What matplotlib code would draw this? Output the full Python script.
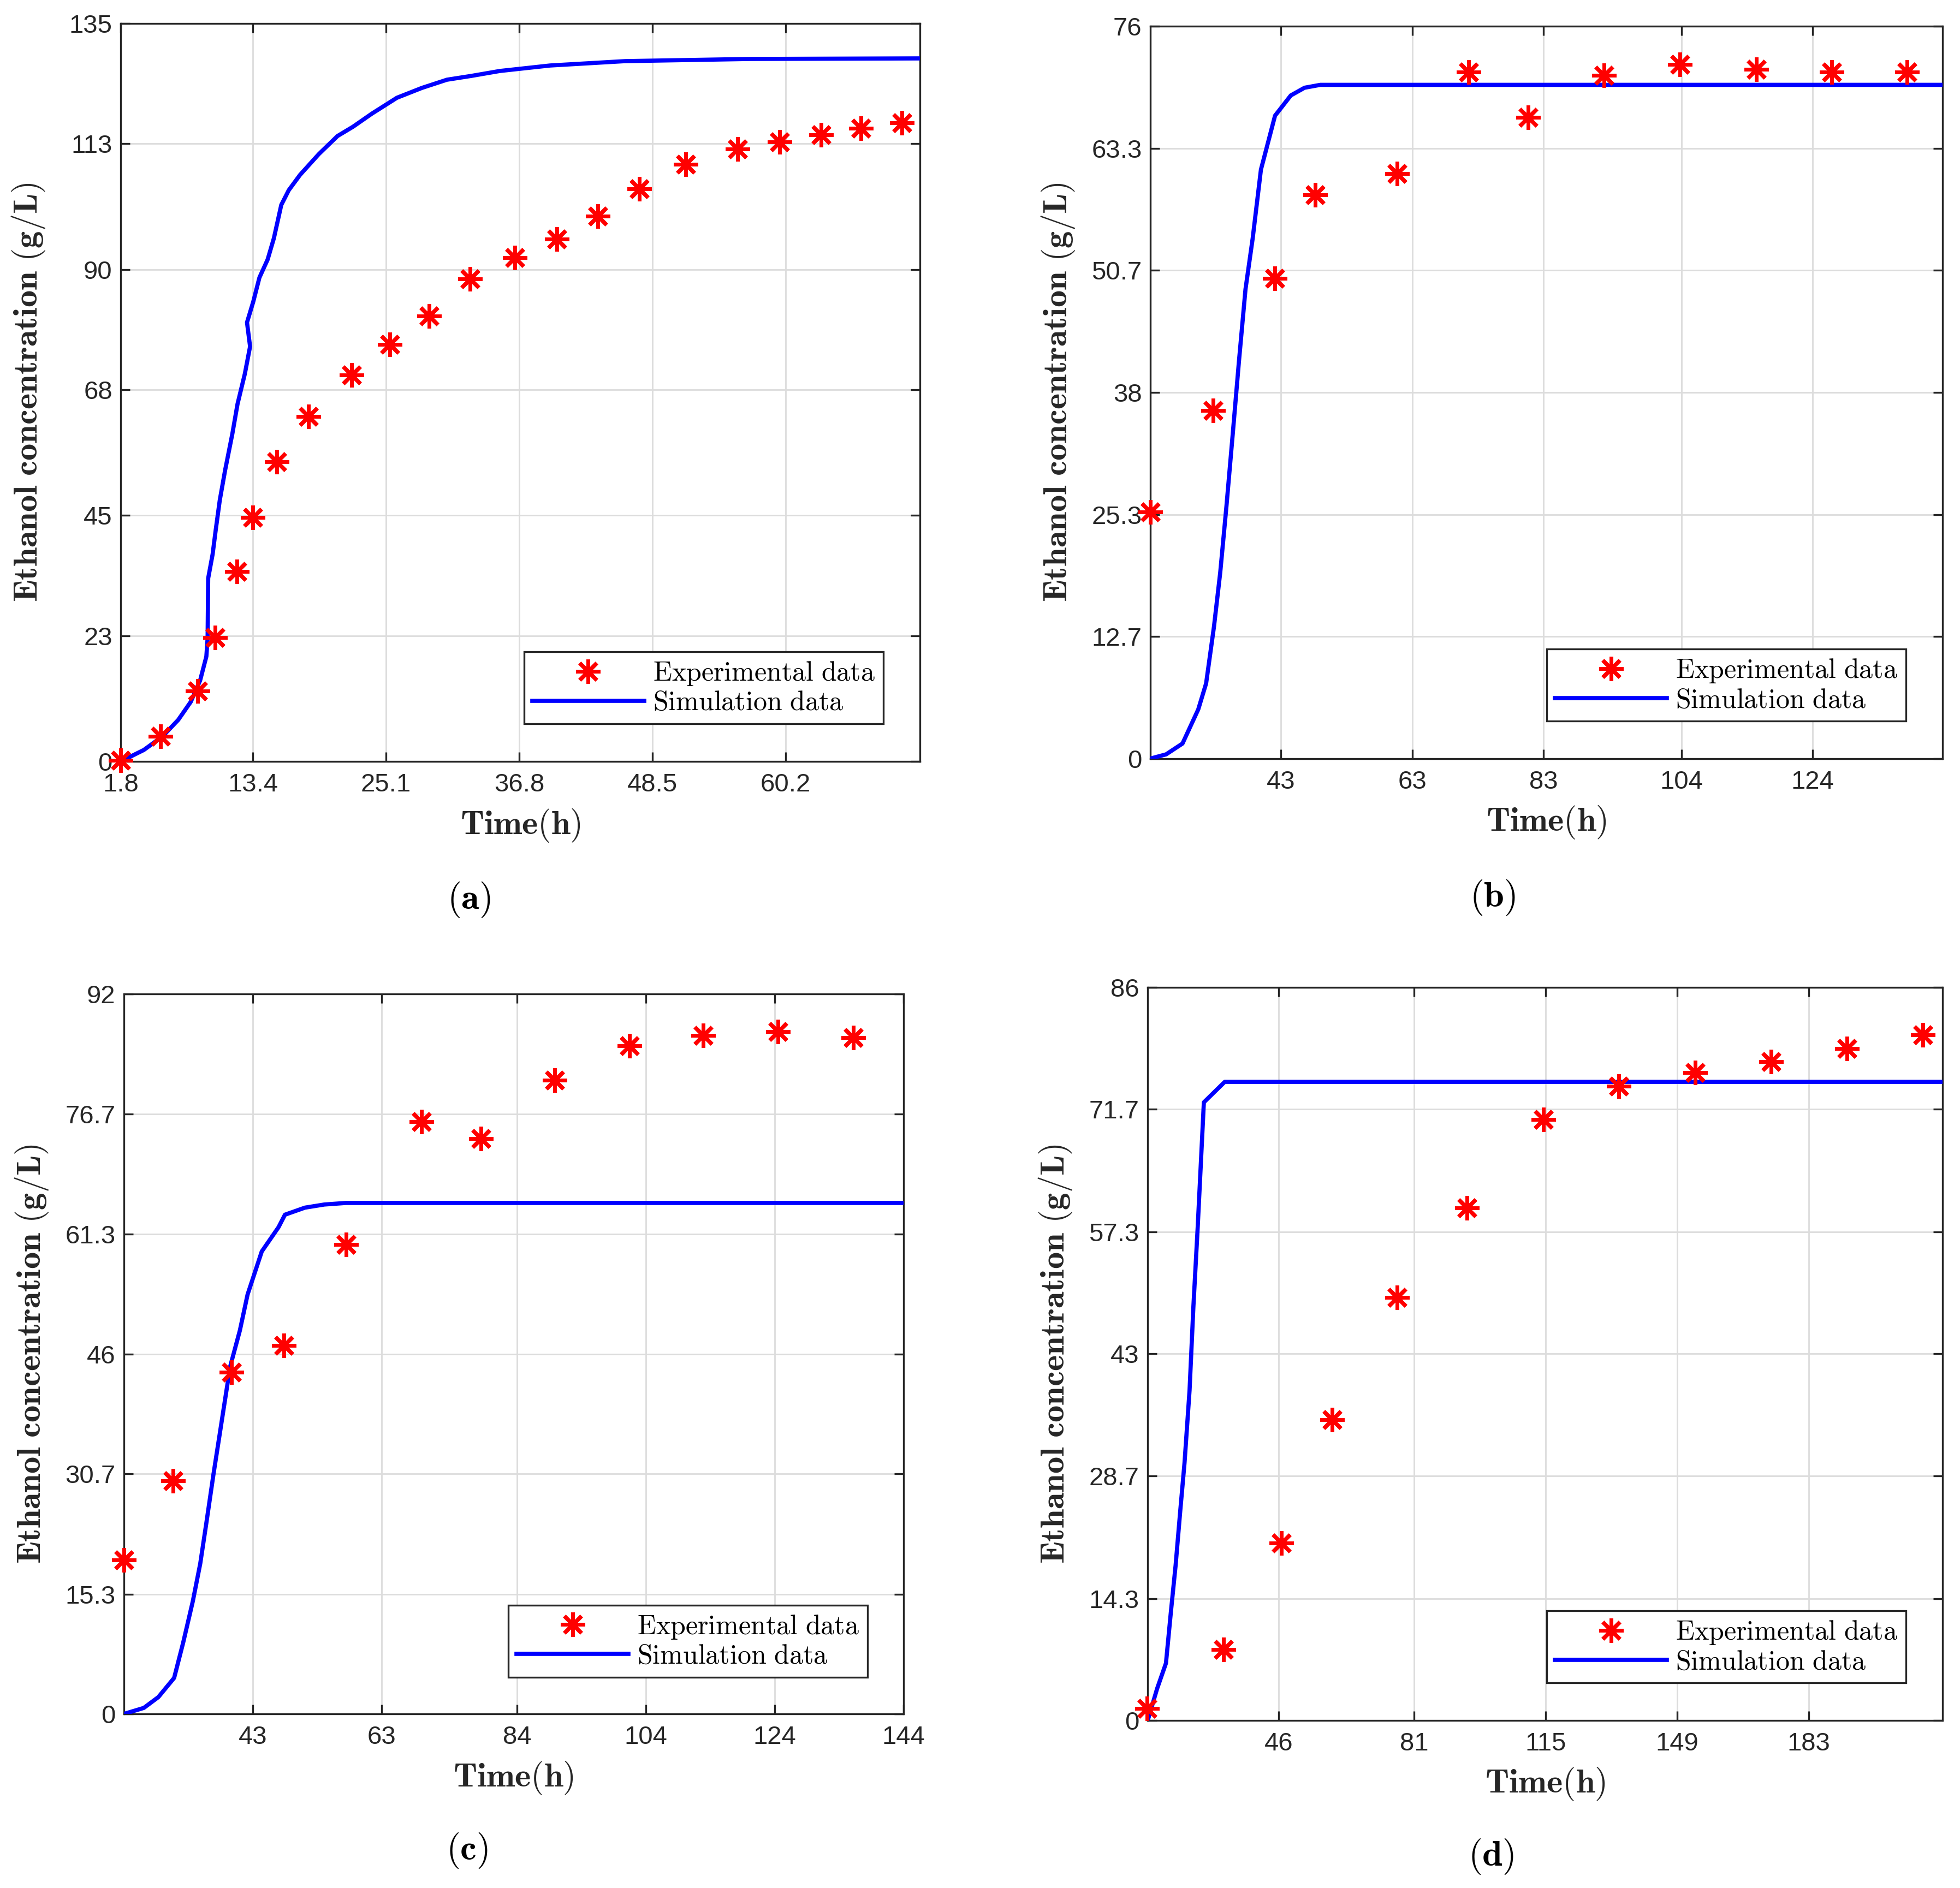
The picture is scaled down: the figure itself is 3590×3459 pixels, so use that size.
import matplotlib
matplotlib.use("Agg")
import matplotlib.pyplot as plt

plt.rcParams['font.family'] = ['Liberation Sans', 'DejaVu Sans']
plt.rcParams['mathtext.fontset'] = 'cm'

# ---- panel (a) ----
a_exp_x = [1.8, 5.3, 8.55, 10.1, 12.0, 13.4, 15.5, 18.3, 22.1, 25.45, 28.9, 32.5,
           36.4, 40.1, 43.7, 47.35, 51.4, 56.0, 59.65, 63.3, 66.8, 70.4]
a_exp_y = [0.2, 4.6, 12.9, 22.7, 34.7, 44.6, 54.8, 63.1, 70.7, 76.3, 81.5, 88.3,
           92.2, 95.6, 99.7, 104.7, 109.2, 112.0, 113.3, 114.6, 115.8, 116.8]
a_sim_x = [1.8, 3.83, 5.48, 6.85, 7.95, 8.77, 9.32, 9.43, 9.48, 9.87, 10.14, 10.5,
           10.97, 11.6, 12.06, 12.7, 13.16, 12.89, 13.44, 13.98, 14.7, 15.25, 15.9,
           16.56, 17.55, 19.2, 20.84, 22.2, 23.86, 26.06, 28.25, 30.45, 32.6, 35.1,
           39.5, 46.1, 57.1, 72.0]
a_sim_y = [0, 2.1, 4.6, 7.6, 10.9, 14.8, 19.2, 22.5, 33.5, 37.9, 42.3, 47.8,
           53.3, 59.9, 65.4, 70.9, 75.9, 80.3, 84.1, 88.5, 91.8, 95.7, 101.8,
           104.5, 107.3, 111.1, 114.4, 116.1, 118.5, 121.4, 123.2, 124.7, 125.4, 126.3,
           127.3, 128.1, 128.5, 128.6]
a_xticks = [1.8, 13.4, 25.1, 36.8, 48.5, 60.2]
a_xlabels = ['1.8', '13.4', '25.1', '36.8', '48.5', '60.2']
a_yticks = [0, 23, 45, 68, 90, 113, 135]
a_ylabels = ['0', '23', '45', '68', '90', '113', '135']

# ---- panel (b) ----
b_exp_x = [23.1, 32.7, 42.1, 48.2, 60.7, 71.6, 80.7, 92.2, 103.8, 115.4, 126.9, 138.4]
b_exp_y = [25.6, 36.1, 49.8, 58.5, 60.7, 71.2, 66.5, 70.9, 72.0, 71.5, 71.2, 71.2]
b_sim_x = [23.1, 25.5, 28.0, 30.4, 31.6, 32.8, 33.75, 34.7, 35.66, 36.6, 37.6, 38.7,
           39.95, 42.1, 44.5, 46.6, 49.0, 143.8]
b_sim_y = [0, 0.44, 1.56, 5.1, 7.8, 13.7, 19.3, 26.2, 33.7, 41.2, 48.7, 54.0,
           61.1, 66.7, 68.8, 69.6, 69.9, 69.9]
b_xticks = [43, 63, 83, 104, 124]
b_xlabels = ['43', '63', '83', '104', '124']
b_yticks = [0, 12.7, 25.3, 38, 50.7, 63.3, 76]
b_ylabels = ['0', '12.7', '25.3', '38', '50.7', '63.3', '76']

# ---- panel (c) ----
c_exp_x = [23.0, 30.6, 39.7, 47.85, 57.5, 69.2, 78.4, 89.9, 101.5, 112.9, 124.5, 136.2]
c_exp_y = [19.7, 29.8, 43.7, 47.1, 60.0, 75.7, 73.5, 81.0, 85.4, 86.7, 87.2, 86.4]
c_sim_x = [23.0, 26.1, 28.35, 30.8, 32.2, 33.7, 34.85, 35.8, 36.9, 38.05, 39.5, 41.0,
           42.2, 44.4, 47.0, 48.0, 51.1, 54.1, 57.45, 61.8, 144]
c_sim_y = [0, 0.77, 2.15, 4.6, 9.1, 14.4, 19.2, 24.4, 30.6, 36.7, 44.4, 49.0,
           53.6, 59.1, 62.2, 63.8, 64.7, 65.1, 65.3, 65.3, 65.3]
c_xticks = [43, 63, 84, 104, 124, 144]
c_xlabels = ['43', '63', '84', '104', '124', '144']
c_yticks = [0, 15.3, 30.7, 46, 61.3, 76.7, 92]
c_ylabels = ['0', '15.3', '30.7', '46', '61.3', '76.7', '92']

# ---- panel (d) ----
d_exp_x = [12.0, 31.75, 46.8, 59.8, 76.6, 94.7, 114.5, 133.9, 153.7, 173.3, 192.9, 212.5]
d_exp_y = [1.4, 8.3, 20.8, 35.3, 49.6, 60.1, 70.5, 74.4, 76.0, 77.3, 78.8, 80.4]
d_sim_x = [12.2, 14.6, 16.9, 18.15, 19.4, 20.6, 21.7, 23.0, 24.0, 25.1, 26.7, 32.1, 217.6]
d_sim_y = [0, 3.7, 6.7, 12.6, 18.2, 24.6, 30.2, 38.7, 48.6, 57.8, 72.5, 74.9, 74.9]
d_xticks = [46, 81, 115, 149, 183]
d_xlabels = ['46', '81', '115', '149', '183']
d_yticks = [0, 14.3, 28.7, 43, 57.3, 71.7, 86]
d_ylabels = ['0', '14.3', '28.7', '43', '57.3', '71.7', '86']

panels = [
    # exp_x, exp_y, sim_x, sim_y, xticks, xlabels, yticks, ylabels, xlim, ylim, rect, caption, cappos
    (a_exp_x, a_exp_y, a_sim_x, a_sim_y, a_xticks, a_xlabels, a_yticks, a_ylabels,
     (1.8, 72.0), (0, 135), [0.0616, 0.5967, 0.4078, 0.3909], 'a', (0.2393, 0.5233)),
    (b_exp_x, b_exp_y, b_sim_x, b_sim_y, b_xticks, b_xlabels, b_yticks, b_ylabels,
     (23.1, 143.8), (0, 76), [0.5869, 0.5982, 0.4042, 0.3880], 'b', (0.7616, 0.5247)),
    (c_exp_x, c_exp_y, c_sim_x, c_sim_y, c_xticks, c_xlabels, c_yticks, c_ylabels,
     (23.0, 144.0), (0, 92), [0.0632, 0.0922, 0.3978, 0.3813], 'c', (0.2384, 0.0199)),
    (d_exp_x, d_exp_y, d_sim_x, d_sim_y, d_xticks, d_xlabels, d_yticks, d_ylabels,
     (12.15, 217.65), (0, 86), [0.5855, 0.0888, 0.4056, 0.3883], 'd', (0.7607, 0.0167)),
]

FW, FH = 3590, 3459   # figure size in pixels

fig = plt.figure(figsize=(FW / 100, FH / 100), dpi=100)

for (ex, ey, sx, sy, xt, xl, yt, yl, xlim, ylim, rect, cap, cpos) in panels:
    ax = fig.add_axes(rect)
    ax.plot(ex, ey, linestyle='none', marker=(8, 2, 0), markersize=32,
            markeredgewidth=5, color='#ff0000', clip_on=False, zorder=4,
            label=r'$\mathrm{Experimental\ data}$')
    ax.plot(sx, sy, color='#0000ff', linewidth=5.5, zorder=3,
            label=r'$\mathrm{Simulation\ data}$')
    ax.set_xlim(xlim)
    ax.set_ylim(ylim)
    ax.set_xticks(xt)
    ax.set_xticklabels(xl)
    ax.set_yticks(yt)
    ax.set_yticklabels(yl)
    ax.grid(True, color='#dcdcdc', linewidth=2)
    ax.set_axisbelow(True)
    for sp in ax.spines.values():
        sp.set_linewidth(2.4)
        sp.set_color('#262626')
    ax.tick_params(direction='in', length=12, width=2.4, color='#262626',
                   labelcolor='#262626', labelsize=34, top=True, right=True)
    ax.tick_params(axis='x', pad=15)
    ax.tick_params(axis='y', pad=11)
    ax.set_xlabel(r'$\mathbf{Time(h)}$', fontsize=45, color='#262626')
    ax.set_ylabel(r'$\mathbf{Ethanol\ concentration\ (g/L)}$', fontsize=45,
                  color='#262626')
    # fixed label offsets (pixels from the axes frame)
    ax.xaxis.set_label_coords(0.5, -117 / (rect[3] * FH))
    ax.xaxis.label.set_va('center')
    ax.yaxis.set_label_coords(-169 / (rect[2] * FW), 0.5)
    ax.yaxis.label.set_va('center')
    ax.yaxis.label.set_ha('center')
    leg = ax.legend(loc='lower right', bbox_to_anchor=(0.954, 0.051),
                    borderaxespad=0, fontsize=36, fancybox=False,
                    edgecolor='#262626', framealpha=1, handlelength=4.1,
                    labelspacing=0.12, borderpad=0.3, handletextpad=0.32)
    leg.get_frame().set_linewidth(2.4)
    fig.text(cpos[0], cpos[1], r'$(\mathbf{' + cap + r'})$', fontsize=48,
             ha='center', va='center', color='black')

fig.savefig('out.png', dpi=100)
